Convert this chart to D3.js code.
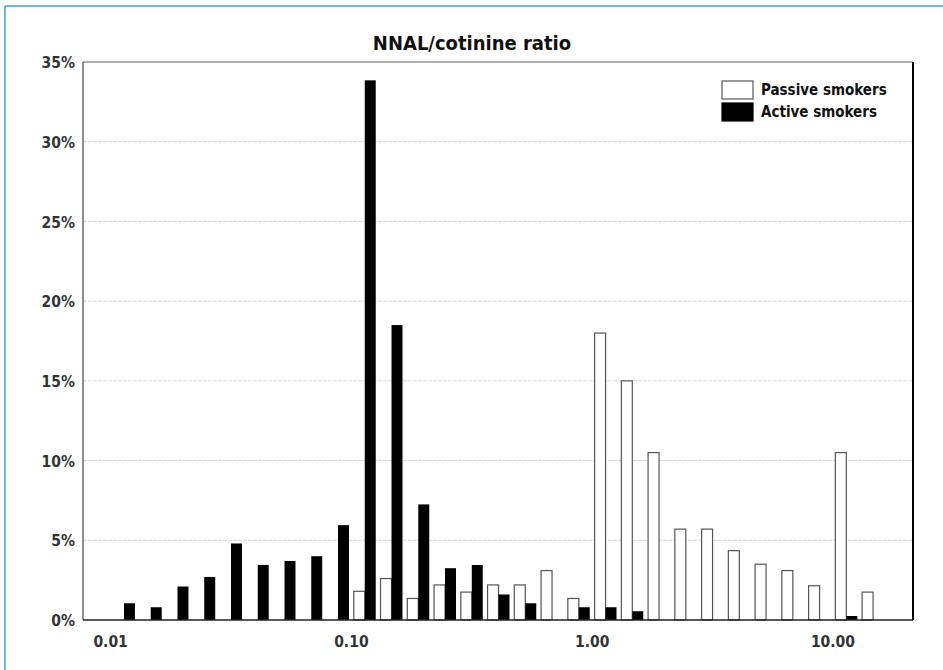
<!DOCTYPE html>
<html>
<head>
<meta charset="utf-8">
<script src="https://cdn.jsdelivr.net/npm/d3@7"></script>
<style>
  body { margin: 0; background: #fff; }
  text { font-family: "Liberation Sans Narrow", "DejaVu Sans Condensed", sans-serif; font-weight: bold; }
</style>
</head>
<body>
<svg id="chart"></svg>
<script>
// histogram bins: 9 per decade, left edge of first bin = 0.01
const binIndex = d3.range(29)
const passive = [0, 0, 0, 0, 0, 0, 0, 0, 0,
    1.8, 2.6, 1.35, 2.2, 1.75, 2.2, 2.2, 3.1, 1.35,
    18.0, 15.0, 10.5, 5.7, 5.7, 4.35, 3.5, 3.1, 2.15,
    10.5, 1.75]
const active = [1.05, 0.8, 2.1, 2.7, 4.8, 3.45, 3.7, 4.0, 5.95,
    33.85, 18.5, 7.25, 3.25, 3.45, 1.6, 1.05, 0, 0.8,
    0.8, 0.55, 0, 0, 0, 0, 0, 0, 0,
    0.25, 0]
const xTicks = [0.01, 0.1, 1, 10]
const yTicks = [0, 5, 10, 15, 20, 25, 30, 35]
const seriesNames = ["Passive smokers", "Active smokers"]

const W = 943, H = 670
const margin = { top: 62, right: 30, bottom: 50, left: 83 },
    width = W - margin.left - margin.right,
    height = H - margin.top - margin.bottom

const svg = d3.select("#chart")
    .attr("width", W)
    .attr("height", H)

// teal frame around the figure (top and left visible)
svg.append("line").attr("x1", 5).attr("x2", W).attr("y1", 6).attr("y2", 6)
    .attr("stroke", "#45a2c2").attr("stroke-width", 1.5)
svg.append("line").attr("x1", 5).attr("x2", 5).attr("y1", 6).attr("y2", H)
    .attr("stroke", "#45a2c2").attr("stroke-width", 1.5)

const g = svg.append("g")
    .attr("transform", `translate(${margin.left}, ${margin.top})`)

const edge = k => Math.pow(10, -2 + k / 9)

const x = d3.scaleLog()
    .domain([0.00768, 21.5])
    .range([0, width])

const y = d3.scaleLinear()
    .domain([0, 35])
    .range([height, 0])

// gridlines
g.selectAll(".grid")
    .data(yTicks.filter(d => d > 0 && d < 35))
    .enter()
    .append("line")
    .attr("x1", 0).attr("x2", width)
    .attr("y1", d => y(d)).attr("y2", d => y(d))
    .attr("stroke", "#d6d6d6")
    .attr("stroke-dasharray", "4,1")

const barW = k => 0.41 * (x(edge(k + 1)) - x(edge(k)))
const mid = k => x(Math.sqrt(edge(k) * edge(k + 1)))

// passive (white) bars
g.selectAll(".passive")
    .data(binIndex.filter(k => passive[k] > 0))
    .enter()
    .append("rect")
    .attr("x", k => mid(k) - barW(k))
    .attr("y", k => y(passive[k]))
    .attr("width", k => barW(k))
    .attr("height", k => y(0) - y(passive[k]))
    .attr("fill", "#fff")
    .attr("stroke", "#555")
    .attr("stroke-width", 1.2)

// active (black) bars
g.selectAll(".active")
    .data(binIndex.filter(k => active[k] > 0))
    .enter()
    .append("rect")
    .attr("x", k => mid(k))
    .attr("y", k => y(active[k]))
    .attr("width", k => barW(k))
    .attr("height", k => y(0) - y(active[k]))
    .attr("fill", "#000")

// frame
g.append("line").attr("x1", 0).attr("x2", width).attr("y1", 0).attr("y2", 0)
    .attr("stroke", "#666").attr("stroke-width", 1.2)
g.append("line").attr("x1", 0).attr("x2", 0).attr("y1", 0).attr("y2", height)
    .attr("stroke", "#444").attr("stroke-width", 1.2)
g.append("line").attr("x1", 0).attr("x2", width).attr("y1", height).attr("y2", height)
    .attr("stroke", "#222").attr("stroke-width", 1.5)
g.append("line").attr("x1", width).attr("x2", width).attr("y1", 0).attr("y2", height)
    .attr("stroke", "#000").attr("stroke-width", 2)

// y axis labels
g.selectAll(".ylab")
    .data(yTicks)
    .enter()
    .append("text")
    .attr("x", -8)
    .attr("y", d => y(d))
    .attr("dy", "0.4em")
    .attr("text-anchor", "end")
    .attr("font-size", 15.5)
    .attr("fill", "#333")
    .text(d => d + "%")

// x axis labels
g.selectAll(".xlab")
    .data(xTicks)
    .enter()
    .append("text")
    .attr("x", d => x(d))
    .attr("y", height + 27)
    .attr("text-anchor", "middle")
    .attr("font-size", 15.5)
    .attr("fill", "#333")
    .text(d => d3.format(".2f")(d))

// title
svg.append("text")
    .attr("x", 472)
    .attr("y", 50)
    .attr("text-anchor", "middle")
    .attr("font-size", 20)
    .attr("fill", "#111")
    .text("NNAL/cotinine ratio")

// legend
const legend = g.append("g")
    .attr("transform", `translate(${width - 191}, 19)`)
seriesNames.forEach(function (name, i) {
    legend.append("rect")
        .attr("x", 0)
        .attr("y", i * 22)
        .attr("width", 31)
        .attr("height", 18)
        .attr("fill", i === 0 ? "#fff" : "#000")
        .attr("stroke", i === 0 ? "#555" : "#000")
        .attr("stroke-width", 1.2)
    legend.append("text")
        .attr("x", 39)
        .attr("y", i * 22 + 9)
        .attr("dy", "0.35em")
        .attr("font-size", 15)
        .attr("fill", "#111")
        .text(name)
})
</script>
</body>
</html>
